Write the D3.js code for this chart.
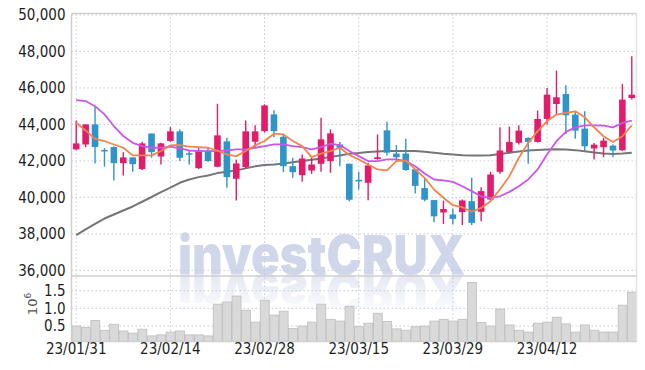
<!DOCTYPE html>
<html>
<head>
<meta charset="utf-8">
<script src="https://d3js.org/d3.v7.min.js"></script>
<style>
  body { margin: 0; background: #fff; }
  svg { display: block; }
  .axis text { font-family: "DejaVu Sans Condensed", "DejaVu Sans", sans-serif; font-stretch: condensed; font-size: 15px; fill: #1e1e1e; }
</style>
</head>
<body>
<div id="chart"></div>
<script>
var dates = ['23/01/31','23/02/01','23/02/02','23/02/03','23/02/06','23/02/07','23/02/08','23/02/09','23/02/10','23/02/13',
  '23/02/14','23/02/15','23/02/16','23/02/17','23/02/20','23/02/21','23/02/22','23/02/23','23/02/24','23/02/27',
  '23/02/28','23/03/02','23/03/03','23/03/06','23/03/07','23/03/08','23/03/09','23/03/10','23/03/13','23/03/14',
  '23/03/15','23/03/16','23/03/17','23/03/20','23/03/21','23/03/22','23/03/23','23/03/24','23/03/27','23/03/28',
  '23/03/29','23/03/30','23/03/31','23/04/03','23/04/04','23/04/05','23/04/06','23/04/07','23/04/10','23/04/11',
  '23/04/12','23/04/13','23/04/14','23/04/17','23/04/18','23/04/19','23/04/20','23/04/21','23/04/24','23/04/25'];

var open = [42630,42900,44000,42600,42760,41880,42190,41550,43500,42240,
  43090,43620,42420,41600,42570,41680,43070,41020,41660,43050,
  43630,44550,43320,41710,41220,41470,41840,41990,42900,41840,
  40960,40800,42100,43670,42400,42400,41540,40510,39850,39170,
  39060,39190,39790,39210,39880,41400,42490,42990,43260,43040,
  44300,45120,45670,44540,43770,42680,42750,42840,42580,45450];
var high = [44220,44000,45000,42700,42800,42480,42200,43050,43500,43000,
  43850,43730,42540,42700,42760,45130,43270,42080,44220,43950,
  45100,44770,43490,42170,42350,42170,44370,43730,43030,41860,
  41400,41900,43450,44150,42870,43210,41540,41040,39850,39820,
  39390,39880,41070,40560,41400,43840,43880,43950,43300,44760,
  46000,46950,46150,44720,44720,42980,43260,42900,46220,47740];
var low = [42600,42750,41860,41690,40930,41200,41400,41500,42170,41800,
  43050,41990,41800,41550,41950,41650,40530,39830,41600,42760,
  43550,43300,41380,41070,40850,41290,41400,41350,41710,39780,
  40430,39840,42070,42290,42000,41460,40210,39780,38630,38540,
  38510,38480,38480,38690,39850,41290,42440,42900,41840,43000,
  43990,44580,43480,43220,42530,42070,42200,42200,42550,45360];
var close = [42960,44000,42760,42550,41880,42190,41820,42960,42480,42960,
  43620,42170,42400,42570,41990,43400,41110,41860,43620,43620,
  45040,43630,41710,41380,42130,41800,43180,43510,42720,39870,
  40940,41750,42200,42450,42200,41500,40630,39870,38960,39360,
  38820,39830,38600,40340,41250,42570,43040,43660,43040,44300,
  45630,45490,44500,43660,42800,42890,43110,42570,45360,45630];

// volume in millions of shares
var volume = [0.50,0.46,0.66,0.38,0.55,0.36,0.30,0.41,0.22,0.25,
  0.33,0.36,0.25,0.25,0.22,1.12,1.18,1.35,0.95,0.61,
  1.23,0.81,0.92,0.43,0.50,0.61,1.12,0.69,0.64,1.06,
  0.48,0.58,0.86,0.63,0.42,0.38,0.48,0.50,0.64,0.69,
  0.64,0.69,1.73,0.60,0.50,0.98,0.53,0.38,0.33,0.58,
  0.61,0.75,0.56,0.33,0.53,0.38,0.33,0.33,1.09,1.46];

var ma5 = [44090,43670,43210,43090,42900,42720,42300,42300,42300,42540,
  42850,42870,42780,42760,42720,42570,42350,42260,42540,42850,
  43090,43490,43450,43090,42810,42210,42400,42540,42720,42320,
  42080,41800,41530,41480,41990,42030,41530,41070,40430,39980,
  39570,39460,39210,39420,39790,40430,41160,42160,42990,43630,
  44170,44540,44630,44720,44390,43840,43350,43040,43350,43950];
var ma20 = [45330,45280,45000,44550,43910,43360,42990,42810,42720,42720,
  42780,42680,42570,42540,42540,42540,42570,42630,42630,42720,
  42810,42900,42900,42810,42760,42630,42760,42940,42870,42540,
  42260,41990,41990,42080,42080,41990,41710,41310,40980,40930,
  40850,40610,40340,40060,39970,40060,40300,40610,40980,41530,
  42350,43080,43590,43840,43950,43950,43930,43840,44080,44210];
var ma60 = [37930,38240,38550,38840,39060,39280,39500,39760,40020,40290,
  40530,40800,40980,41110,41200,41330,41400,41480,41590,41700,
  41770,41800,41860,41920,41990,42060,42130,42220,42300,42390,
  42430,42490,42520,42540,42540,42540,42540,42500,42450,42390,
  42350,42310,42290,42290,42310,42380,42440,42510,42570,42600,
  42620,42640,42620,42590,42530,42460,42400,42380,42400,42440];

var priceTicks = [36000,38000,40000,42000,44000,46000,48000,50000];
var volTicks = [0.5,1.0,1.5];
var dateTicks = ['23/01/31','23/02/14','23/02/28','23/03/15','23/03/29','23/04/12'];

var W = 645, H = 370;
var left = 71.5, right = 636.5, mainTop = 13.5, mainBottom = 276, volBottom = 341.5;

var svg = d3.select('#chart').append('svg')
  .attr('width', W).attr('height', H);

var x = d3.scaleBand().domain(dates).range([left, right]);
var y = d3.scaleLinear().domain([36000, 50000]).range([270.3, 15]);
var yv = d3.scaleLinear().domain([0, 1.5]).range([343.7, 290.7]);
var cx = function(d){ return x(d) + x.bandwidth()/2; };

// watermark + faded reflection
var defs = svg.append('defs');
var grad = defs.append('linearGradient').attr('id','fade').attr('x1',0).attr('y1',0).attr('x2',0).attr('y2',1);
grad.append('stop').attr('offset','0%').attr('stop-color','#fff').attr('stop-opacity',0.6);
grad.append('stop').attr('offset','100%').attr('stop-color','#fff').attr('stop-opacity',0);
defs.append('mask').attr('id','refl')
  .append('rect').attr('x',0).attr('y',274).attr('width',W).attr('height',42).attr('fill','url(#fade)');

var wmBase = 274;
function watermark(g){
  g.append('text')
    .attr('x', 178).attr('y', wmBase)
    .attr('textLength', 287).attr('lengthAdjust','spacingAndGlyphs')
    .style('font-family','Inter, Roboto, sans-serif').style('font-weight',900).style('font-size','54px')
    .style('fill','#d1d7ea')
    .text('investCRUX');
}
watermark(svg.append('g'));
watermark(svg.append('g').attr('mask','url(#refl)')
  .append('g').attr('transform','translate(0,'+(2*wmBase)+') scale(1,-1)'));

// grid
var grid = svg.append('g').style('stroke','#c6c9da').style('stroke-width',1).style('stroke-dasharray','1.5,2.5');
grid.selectAll('.hp').data(priceTicks).enter().append('line')
  .attr('x1', left).attr('x2', right)
  .attr('y1', function(d){ return y(d); }).attr('y2', function(d){ return y(d); });
grid.selectAll('.hv').data(volTicks).enter().append('line')
  .attr('x1', left).attr('x2', right)
  .attr('y1', function(d){ return yv(d); }).attr('y2', function(d){ return yv(d); });
grid.selectAll('.vx').data(dateTicks).enter().append('line')
  .attr('x1', cx).attr('x2', cx)
  .attr('y1', mainTop).attr('y2', volBottom);

// volume bars
svg.append('g').selectAll('rect').data(dates).enter().append('rect')
  .attr('x', function(d){ return x(d) + 0.5; })
  .attr('width', x.bandwidth() - 0.5)
  .attr('y', function(d, i){ return yv(volume[i]); })
  .attr('height', function(d, i){ return volBottom - yv(volume[i]); })
  .style('fill','#d9d9d9').style('stroke','#bdbdbd').style('stroke-width',0.8);

// moving averages
function maLine(arr, color, w){
  var line = d3.line().x(function(d, i){ return cx(dates[i]); }).y(function(d){ return y(d); });
  svg.append('path').datum(arr).attr('d', line)
    .style('fill','none').style('stroke', color).style('stroke-width', w)
    .style('stroke-linejoin','round');
}
maLine(ma60, '#767676', 2);

// candles
var bw = 6.6;
var cg = svg.append('g');
var candle = cg.selectAll('g').data(dates).enter().append('g');
var col = function(d, i){ return close[i] >= open[i] ? '#e21b6b' : '#2f95c8'; };
candle.append('line')
  .attr('x1', cx).attr('x2', cx)
  .attr('y1', function(d, i){ return y(high[i]); })
  .attr('y2', function(d, i){ return y(low[i]); })
  .style('stroke', col).style('stroke-width', 1.4);
candle.append('rect')
  .attr('x', function(d){ return cx(d) - bw/2; })
  .attr('width', bw)
  .attr('y', function(d, i){ return y(Math.max(open[i], close[i])); })
  .attr('height', function(d, i){ return Math.max(1.5, Math.abs(y(open[i]) - y(close[i]))); })
  .style('fill', col);

maLine(ma20, '#cc55ea', 1.8);
maLine(ma5, '#f0854d', 1.8);

// frame
var frame = svg.append('g').style('stroke','#cfcfcf').style('stroke-width',1.5);
frame.append('line').attr('x1', left).attr('x2', right).attr('y1', mainTop).attr('y2', mainTop);
frame.append('line').attr('x1', left).attr('x2', left).attr('y1', mainTop).attr('y2', volBottom);
frame.append('line').attr('x1', right).attr('x2', right).attr('y1', mainTop).attr('y2', volBottom).style('stroke','#e2e2e2');
frame.append('line').attr('x1', left).attr('x2', right).attr('y1', mainBottom).attr('y2', mainBottom);
frame.append('line').attr('x1', left).attr('x2', right).attr('y1', volBottom).attr('y2', volBottom);

// axes
var yAxis = d3.axisLeft(y).tickValues(priceTicks).tickSize(0).tickPadding(6)
  .tickFormat(d3.format(','));
var gy = svg.append('g').attr('class','axis').attr('transform','translate('+left+',0)').call(yAxis);
gy.select('.domain').remove();

var vAxis = d3.axisLeft(yv).tickValues(volTicks).tickSize(0).tickPadding(6)
  .tickFormat(d3.format('.1f'));
var gv = svg.append('g').attr('class','axis').attr('transform','translate('+left+',0)').call(vAxis);
gv.select('.domain').remove();

var xAxis = d3.axisBottom(x).tickValues(dateTicks).tickSize(0).tickPadding(2);
var gx = svg.append('g').attr('class','axis').attr('transform','translate(0,'+volBottom+')').call(xAxis);
gx.select('.domain').remove();

// volume unit label
var unit = svg.append('text')
  .attr('transform','translate(37,304) rotate(-90)')
  .attr('text-anchor','middle')
  .style('font-family','"DejaVu Sans", sans-serif').style('font-size','13px').style('fill','#555');
unit.append('tspan').text('10');
unit.append('tspan').attr('dy',-6).style('font-size','9px').text('6');
</script>
</body>
</html>
